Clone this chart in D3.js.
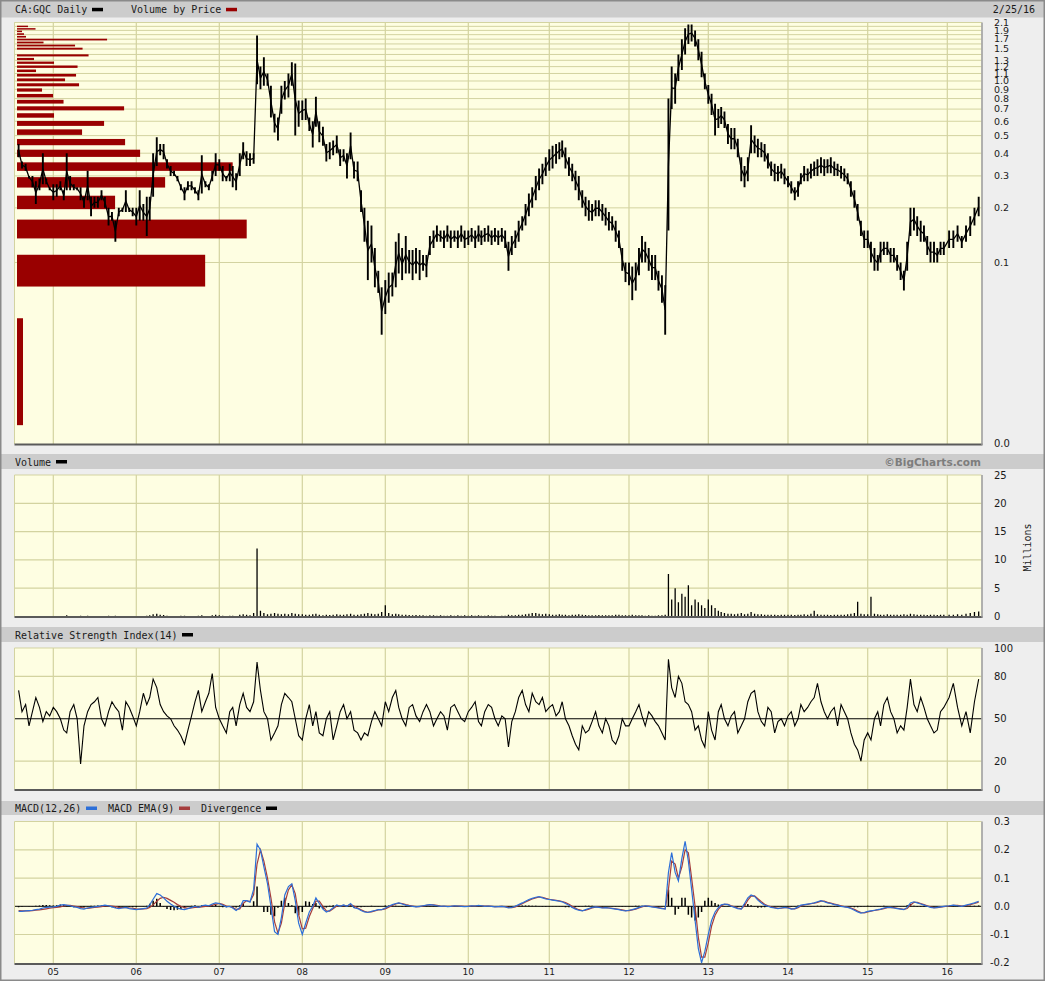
<!DOCTYPE html>
<html><head><meta charset="utf-8">
<script src="https://cdn.jsdelivr.net/npm/d3@7"></script>
<style>
html,body{margin:0;padding:0;background:#eeeeee;}
svg{display:block;}
</style></head><body>
<svg id="chart" width="1045" height="981"></svg>
<script>
// ---------------- DATA ----------------
const symbolTitle = "CA:GQC Daily";
const lastDateLabel = "2/25/16";
const yearLabels = ["05","06","07","08","09","10","11","12","13","14","15","16"];
const yearStarts = yearLabels.map(s => new Date(2000 + (+s), 0, 1));

// sample dates: 1st and 16th of each month Aug 2004 - Dec 2015, then weekly in 2016
const sampleDates = [];
for (let yr = 2004; yr <= 2015; yr++) {
  for (let m = (yr === 2004 ? 7 : 0); m < 12; m++) {
    sampleDates.push(new Date(yr, m, 1), new Date(yr, m, 16));
  }
}
["2016-01-04","2016-01-11","2016-01-18","2016-01-25","2016-02-01","2016-02-08","2016-02-15","2016-02-22"]
  .forEach(s => sampleDates.push(new Date(s + "T00:00:00")));

const priceLow = [
  0.38,0.33,0.32,0.29,0.26,0.21,0.25,0.27,0.27,0.25,
  0.22,0.23,0.25,0.22,0.25,0.25,0.25,0.25,0.22,0.20,0.22,0.18,0.20,0.20,0.22,0.20,0.16,0.17,0.13,0.18,0.19,0.19,0.19,0.18,
  0.16,0.17,0.17,0.14,0.17,0.23,0.34,0.39,0.37,0.33,0.30,0.30,0.28,0.25,0.22,0.25,0.25,0.24,0.22,0.24,0.26,0.25,0.28,0.30,
  0.32,0.28,0.28,0.28,0.26,0.25,0.30,0.37,0.34,0.34,0.35,0.96,0.90,0.94,0.94,0.63,0.52,0.47,0.66,0.79,0.81,0.94,0.50,0.56,
  0.61,0.61,0.53,0.43,0.56,0.46,0.44,0.36,0.37,0.39,0.40,0.34,0.36,0.29,0.37,0.29,0.28,0.19,0.13,0.08,0.10,0.073,0.068,0.04,
  0.052,0.06,0.065,0.073,0.087,0.08,0.087,0.087,0.08,0.087,0.08,0.09,0.083,0.11,0.12,0.13,0.13,0.12,0.13,0.12,0.13,0.12,0.13,0.12,
  0.125,0.13,0.12,0.13,0.125,0.13,0.13,0.125,0.13,0.125,0.13,0.12,0.09,0.11,0.12,0.13,0.15,0.16,0.18,0.20,0.22,0.25,0.27,0.30,
  0.32,0.33,0.35,0.37,0.38,0.33,0.30,0.28,0.25,0.22,0.20,0.18,0.17,0.17,0.18,0.18,0.17,0.16,0.15,0.15,0.13,0.12,0.09,0.078,
  0.075,0.062,0.07,0.085,0.10,0.10,0.09,0.08,0.08,0.07,0.06,0.04,0.15,0.70,0.75,1.00,1.15,1.40,1.60,1.65,1.55,1.30,1.05,0.90,
  0.75,0.65,0.50,0.55,0.58,0.55,0.45,0.42,0.42,0.38,0.28,0.26,0.28,0.40,0.40,0.38,0.38,0.36,0.33,0.30,0.28,0.28,0.29,0.27,
  0.26,0.24,0.22,0.23,0.27,0.28,0.28,0.29,0.30,0.30,0.31,0.30,0.31,0.31,0.30,0.30,0.29,0.28,0.27,0.23,0.20,0.17,0.14,0.12,
  0.12,0.10,0.09,0.09,0.10,0.11,0.11,0.10,0.10,0.09,0.08,0.07,0.09,0.14,0.15,0.14,0.13,0.13,0.11,0.10,0.10,0.10,0.11,0.11,
  0.12,0.12,0.13,0.12,0.13,0.14,0.16,0.18
];
const priceHigh = [
  0.45,0.36,0.35,0.30,0.30,0.28,0.29,0.40,0.29,0.26,
  0.27,0.27,0.28,0.25,0.40,0.30,0.27,0.26,0.26,0.23,0.32,0.23,0.23,0.23,0.25,0.23,0.20,0.19,0.17,0.20,0.20,0.25,0.20,0.20,
  0.20,0.25,0.21,0.23,0.23,0.40,0.49,0.45,0.45,0.37,0.34,0.32,0.30,0.27,0.26,0.28,0.28,0.26,0.25,0.39,0.28,0.27,0.32,0.40,
  0.37,0.34,0.30,0.35,0.34,0.31,0.40,0.46,0.41,0.40,0.40,1.78,1.20,1.35,1.10,0.94,0.66,0.63,0.94,1.00,1.10,1.27,1.25,0.78,
  0.78,0.80,0.63,0.60,0.82,0.60,0.56,0.45,0.46,0.47,0.50,0.42,0.42,0.40,0.52,0.36,0.36,0.25,0.20,0.17,0.16,0.12,0.09,0.073,
  0.08,0.088,0.088,0.13,0.145,0.12,0.14,0.117,0.117,0.12,0.117,0.11,0.11,0.14,0.15,0.16,0.15,0.15,0.16,0.15,0.15,0.15,0.16,0.15,
  0.15,0.155,0.15,0.16,0.15,0.155,0.16,0.15,0.155,0.15,0.155,0.15,0.13,0.14,0.15,0.17,0.18,0.21,0.24,0.26,0.30,0.33,0.35,0.38,
  0.42,0.44,0.45,0.46,0.47,0.43,0.38,0.35,0.32,0.30,0.25,0.23,0.22,0.21,0.22,0.22,0.21,0.20,0.19,0.18,0.17,0.15,0.12,0.10,
  0.10,0.095,0.10,0.12,0.14,0.13,0.12,0.11,0.11,0.09,0.085,0.075,0.80,1.20,1.10,1.40,1.70,1.95,2.05,2.05,1.90,1.70,1.45,1.10,
  0.95,0.85,0.75,0.70,0.72,0.68,0.58,0.55,0.55,0.48,0.38,0.34,0.38,0.57,0.50,0.48,0.46,0.45,0.40,0.36,0.35,0.34,0.35,0.33,
  0.30,0.28,0.26,0.28,0.31,0.34,0.33,0.35,0.36,0.37,0.38,0.37,0.37,0.38,0.36,0.35,0.34,0.33,0.31,0.28,0.25,0.21,0.17,0.15,
  0.15,0.13,0.12,0.11,0.13,0.13,0.13,0.12,0.12,0.11,0.10,0.09,0.13,0.20,0.20,0.18,0.17,0.16,0.14,0.13,0.13,0.12,0.13,0.13,
  0.15,0.15,0.16,0.14,0.16,0.18,0.20,0.23
];
// volume, millions of shares
const volume = [
  0.1,0.05,0.05,0.08,0.05,0.1,0.05,0.06,0.05,0.08,
  0.1,0.05,0.08,0.1,0.2,0.08,0.05,0.06,0.15,0.1,0.12,0.08,0.05,0.06,0.08,0.1,0.12,0.08,0.15,0.1,0.05,0.08,0.06,0.05,
  0.1,0.08,0.1,0.15,0.2,0.4,0.5,0.3,0.25,0.15,0.1,0.08,0.1,0.12,0.15,0.1,0.08,0.1,0.12,0.2,0.1,0.08,0.2,0.3,
  0.2,0.15,0.1,0.15,0.12,0.1,0.3,0.4,0.3,0.2,0.6,12.0,1.0,0.6,0.4,0.5,0.6,0.5,0.4,0.5,0.4,0.6,0.5,0.4,
  0.4,0.3,0.3,0.4,0.5,0.3,0.2,0.3,0.25,0.3,0.4,0.3,0.3,0.4,0.5,0.3,0.3,0.4,0.5,0.6,0.5,0.4,0.5,0.8,
  2.0,0.6,0.4,0.5,0.4,0.3,0.3,0.25,0.2,0.25,0.2,0.2,0.15,0.2,0.2,0.15,0.2,0.15,0.15,0.2,0.15,0.2,0.15,0.2,
  0.15,0.2,0.15,0.2,0.15,0.15,0.2,0.15,0.15,0.1,0.15,0.15,0.3,0.2,0.2,0.3,0.3,0.4,0.5,0.6,0.6,0.5,0.4,0.5,
  0.4,0.3,0.3,0.4,0.3,0.3,0.2,0.3,0.3,0.4,0.3,0.25,0.2,0.2,0.2,0.25,0.2,0.2,0.2,0.2,0.3,0.3,0.2,0.2,
  0.2,0.3,0.2,0.2,0.2,0.15,0.2,0.15,0.15,0.2,0.2,0.3,7.5,3.0,5.0,2.5,4.0,3.5,5.5,2.0,3.0,2.5,2.0,1.5,
  3.0,2.0,1.5,1.0,0.8,0.6,0.5,0.5,0.4,0.5,0.6,0.4,0.5,0.8,0.5,0.4,0.4,0.3,0.3,0.3,0.3,0.25,0.3,0.3,
  0.3,0.3,0.25,0.3,0.3,0.4,0.3,0.5,1.0,0.4,0.3,0.3,0.3,0.25,0.3,0.3,0.3,0.3,0.4,0.5,0.6,2.6,0.5,0.4,
  0.4,3.5,0.5,0.4,0.3,0.3,0.4,0.3,0.3,0.3,0.3,0.4,0.3,0.5,0.4,0.3,0.3,0.3,0.25,0.3,0.3,0.25,0.3,0.3,
  0.3,0.3,0.4,0.3,0.5,0.6,0.8,0.9
];
const rsi14 = [
  70,55,60,45,55,65,58,48,55,52,
  58,55,50,42,40,55,60,50,18,45,55,60,62,65,50,45,55,62,58,55,42,62,58,52,
  45,55,68,60,65,78,72,60,55,52,50,45,42,38,32,42,52,62,70,55,62,68,82,58,
  50,45,40,55,58,45,60,68,58,55,62,90,70,55,50,35,40,45,60,68,65,62,50,38,
  35,50,60,45,55,40,38,50,55,35,45,55,60,50,55,42,40,35,40,38,48,55,50,45,
  62,55,65,70,58,50,45,58,60,52,48,55,60,55,45,50,55,52,42,58,60,55,50,48,
  55,58,62,48,45,55,60,58,50,45,52,50,30,48,55,65,70,60,55,68,62,60,65,55,
  58,60,52,55,62,50,45,38,32,28,45,40,42,48,55,45,40,50,45,35,32,38,50,45,
  45,50,55,60,52,45,55,52,48,45,40,35,92,72,65,80,75,62,60,55,42,45,35,30,
  55,42,35,55,60,50,45,52,55,40,45,50,62,68,70,55,48,45,58,55,40,48,50,45,
  52,55,45,50,60,55,58,62,65,75,62,55,50,55,58,45,60,55,50,40,32,28,20,35,
  40,35,50,55,45,60,65,55,50,40,45,42,58,78,60,55,65,58,50,45,40,42,55,58,
  65,75,58,45,55,40,62,78
];
const macdLine = [
  -0.018,-0.018,-0.016,-0.015,-0.014,-0.012,-0.01,-0.006,-0.004,-0.003,
  -0.002,0.0,0.004,0.006,0.004,0.002,-0.002,-0.004,-0.008,-0.01,-0.006,-0.004,-0.002,0.0,0.002,0.004,0.002,-0.002,-0.006,-0.008,-0.006,-0.004,-0.008,-0.01,
  -0.012,-0.01,-0.008,-0.006,0.005,0.025,0.045,0.04,0.03,0.018,0.008,0.0,-0.006,-0.01,-0.012,-0.008,-0.004,0.0,-0.004,0.002,0.004,0.002,0.008,0.012,
  0.01,0.004,-0.002,0.0,-0.006,-0.015,-0.005,0.02,0.02,0.015,0.06,0.22,0.2,0.14,0.08,0.0,-0.09,-0.1,-0.04,0.04,0.07,0.08,0.02,-0.06,
  -0.1,-0.06,-0.02,0.0,0.03,0.01,-0.01,-0.02,-0.015,-0.005,0.005,0.0,0.005,0.0,0.01,-0.005,-0.008,-0.015,-0.02,-0.022,-0.018,-0.015,-0.012,-0.012,
  -0.006,0.0,0.006,0.01,0.012,0.008,0.004,0.002,0.0,-0.002,0.0,0.002,0.004,0.006,0.004,0.002,0.0,0.001,-0.001,0.0,0.002,0.001,0.0,-0.001,
  0.0,0.002,0.001,0.003,0.002,0.0,0.001,0.0,-0.002,-0.001,0.0,-0.002,-0.006,-0.004,0.0,0.006,0.012,0.018,0.024,0.028,0.032,0.034,0.03,0.026,
  0.024,0.022,0.02,0.018,0.016,0.01,0.004,-0.004,-0.01,-0.014,-0.016,-0.012,-0.008,-0.004,-0.002,-0.004,-0.006,-0.005,-0.006,-0.008,-0.01,-0.012,-0.015,-0.016,
  -0.014,-0.012,-0.008,-0.004,0.0,0.002,0.0,-0.002,-0.004,-0.006,-0.008,-0.01,0.12,0.19,0.12,0.09,0.17,0.23,0.16,0.06,-0.05,-0.15,-0.2,-0.16,
  -0.1,-0.05,-0.02,-0.005,0.005,0.008,0.006,0.0,-0.004,-0.008,-0.01,0.01,0.03,0.04,0.035,0.022,0.012,0.004,0.0,-0.004,-0.006,-0.008,-0.006,-0.004,
  -0.006,-0.01,-0.008,-0.002,0.004,0.006,0.008,0.01,0.012,0.016,0.02,0.016,0.012,0.01,0.006,0.004,0.0,-0.002,-0.004,-0.008,-0.014,-0.02,-0.024,-0.022,
  -0.018,-0.016,-0.014,-0.012,-0.01,-0.006,-0.004,-0.004,-0.006,-0.008,-0.01,-0.012,-0.004,0.012,0.016,0.012,0.008,0.004,0.0,-0.004,-0.006,-0.004,-0.002,0.0,
  0.002,0.004,0.002,0.0,0.004,0.008,0.012,0.018
];
const macdEma = [
  -0.015,-0.016,-0.016,-0.016,-0.015,-0.014,-0.013,-0.011,-0.009,-0.007,
  -0.005,-0.004,-0.002,0.001,0.003,0.003,0.001,-0.001,-0.004,-0.006,-0.007,-0.006,-0.004,-0.003,-0.001,0.001,0.002,0.001,-0.001,-0.004,-0.005,-0.005,-0.006,-0.007,
  -0.009,-0.01,-0.009,-0.008,-0.004,0.005,0.018,0.028,0.032,0.028,0.021,0.014,0.006,0.0,-0.005,-0.007,-0.006,-0.004,-0.004,-0.002,0.0,0.001,0.004,0.007,
  0.01,0.007,0.001,-0.001,-0.004,-0.011,-0.009,0.01,0.02,0.017,0.042,0.15,0.2,0.16,0.1,0.03,-0.055,-0.095,-0.06,0.01,0.058,0.076,0.045,-0.03,
  -0.08,-0.078,-0.036,-0.008,0.018,0.018,0.0,-0.016,-0.017,-0.009,0.001,0.002,0.003,0.002,0.006,0.001,-0.006,-0.012,-0.018,-0.021,-0.02,-0.016,-0.013,-0.012,
  -0.009,-0.003,0.003,0.008,0.011,0.01,0.006,0.003,0.001,-0.001,-0.001,0.001,0.003,0.005,0.005,0.003,0.001,0.0,0.0,0.0,0.001,0.001,0.001,0.0,
  0.0,0.001,0.001,0.002,0.002,0.001,0.001,0.0,-0.001,-0.001,0.0,-0.001,-0.004,-0.005,-0.002,0.003,0.009,0.015,0.021,0.026,0.03,0.033,0.032,0.028,
  0.025,0.023,0.021,0.019,0.017,0.013,0.007,0.0,-0.007,-0.012,-0.015,-0.014,-0.01,-0.006,-0.003,-0.003,-0.005,-0.005,-0.006,-0.007,-0.009,-0.011,-0.013,-0.015,
  -0.015,-0.013,-0.01,-0.006,-0.002,0.001,0.001,-0.001,-0.003,-0.005,-0.007,-0.009,0.06,0.16,0.15,0.1,0.14,0.2,0.19,0.1,0.0,-0.11,-0.18,-0.18,
  -0.13,-0.07,-0.032,-0.011,0.001,0.007,0.007,0.002,-0.002,-0.006,-0.009,0.002,0.022,0.036,0.037,0.027,0.016,0.007,0.002,-0.002,-0.005,-0.007,-0.007,-0.005,
  -0.005,-0.008,-0.009,-0.005,0.001,0.005,0.007,0.009,0.011,0.014,0.018,0.018,0.014,0.011,0.008,0.005,0.002,-0.001,-0.003,-0.006,-0.011,-0.017,-0.022,-0.023,
  -0.02,-0.017,-0.015,-0.013,-0.011,-0.008,-0.005,-0.004,-0.005,-0.007,-0.009,-0.011,-0.008,0.004,0.014,0.014,0.01,0.006,0.002,-0.002,-0.005,-0.005,-0.003,-0.001,
  0.001,0.003,0.003,0.001,0.002,0.006,0.01,0.015
];
// Volume by price: bucket centre price and relative volume
const vbpPrice = [0.031,0.092,0.154,0.215,0.277,0.338,0.400,0.461,0.523,0.584,0.646,0.707,0.769,0.830,0.892,0.953,1.015,1.076,1.138,1.199,1.261,1.322,1.384,1.445,1.507,1.568,1.630,1.691,1.753,1.814,1.876,1.937,1.999];
const vbpVolume = [1.2,37.6,45.9,19.6,29.6,43.1,24.6,21.6,13.0,17.4,7.4,21.4,9.3,7.2,5.0,12.4,9.6,11.8,3.8,12.1,7.4,3.4,14.3,0,13.1,11.6,5.3,18.0,1.8,1.4,1.0,3.7,2.2];

const priceGridValues = d3.range(1, 22).map(i => i / 10);
const priceTickLabels = [2.1,1.9,1.7,1.5,1.3,1.2,1.1,1.0,0.9,0.8,0.7,0.6,0.5,0.4,0.3,0.2,0.1];
const volumeTicks = [0,5,10,15,20,25];
const rsiTicks = [0,20,50,80,100];
const macdTicks = [-0.2,-0.1,0.0,0.1,0.2,0.3];

// ---------------- LAYOUT ----------------
const W = 1045, H = 981;
const plotL = 14.5, plotR = 981.5;
const P = {
  price: {top: 22.5, bottom: 444},
  vol:   {top: 475,  bottom: 616.5},
  rsi:   {top: 648,  bottom: 789.5},
  macd:  {top: 821.5, bottom: 963.5}
};
const C = {bg:"#eeeeee", head:"#cccccc", plot:"#fefee2", grid:"#d3d3a0", text:"#1a1a1a",
           vbp:"#990000", blue:"#2d6fd8", red:"#a53d3d"};
const monoFont = "'DejaVu Sans Mono', monospace";
const sansFont = "'DejaVu Sans', Verdana, sans-serif";

const N = Math.min(sampleDates.length, priceLow.length, priceHigh.length);

const svg = d3.select("#chart");
svg.append("rect").attr("width", W).attr("height", H).attr("fill", C.bg);

// x scale: piecewise time scale matching year gridlines
const xKnots = [new Date(2004,0,1), ...yearStarts, new Date(2016,1,25)];
const xKnotPx = [-29.7, 53.3, 136.3, 219.3, 302.3, 385.3, 468.3, 549.3, 629, 708.3, 788, 867.7, 947.3, 980.5];
const x = d3.scaleTime().domain(xKnots).range(xKnotPx);

const yPrice = d3.scaleLog().domain([0.01, 2.1]).range([P.price.bottom, P.price.top]);
const yVol = d3.scaleLinear().domain([0, 25]).range([P.vol.bottom, P.vol.top]);
const yRsi = d3.scaleLinear().domain([0, 100]).range([789.5, 648]);
const yMacd = d3.scaleLinear().domain([-0.2, 0.3]).range([962.7, 821.7]);
const xVbp = d3.scaleLinear().domain([0, 45.9]).range([17, 246.7]);

// header bars
const headers = [[1, 17.5], [454, 469], [627, 642], [801, 815]];
headers.forEach(([a, b]) => svg.append("rect").attr("x", 1).attr("y", a).attr("width", W - 2).attr("height", b - a).attr("fill", C.head));

function headText(t, xx, yy, opts = {}) {
  return svg.append("text").attr("x", xx).attr("y", yy).text(t)
    .attr("font-family", opts.font || monoFont).attr("font-size", opts.size || 10)
    .attr("fill", opts.fill || C.text).attr("text-anchor", opts.anchor || "start")
    .attr("font-weight", opts.weight || "normal");
}
function swatch(xx, yy, col) {
  svg.append("rect").attr("x", xx).attr("y", yy).attr("width", 11).attr("height", 3.5).attr("fill", col);
}
headText(symbolTitle, 15, 13); swatch(92, 7.8, "#000");
headText("Volume by Price", 131, 13); swatch(226, 7.8, C.vbp);
headText(lastDateLabel, 1035, 13, {anchor: "end"});
headText("Volume", 15, 466); swatch(56, 460, "#000");
headText("\u00A9BigCharts.com", 981, 466, {font: sansFont, size: 10.5, weight: "bold", fill: "#7d7d7d", anchor: "end"});
headText("Relative Strength Index(14)", 15, 638.5); swatch(182, 633, "#000");
headText("MACD(12,26)", 15, 812); swatch(86, 806.5, C.blue);
headText("MACD EMA(9)", 108, 812); swatch(179, 806.5, C.red);
headText("Divergence", 201, 812); swatch(266, 806.5, "#000");

// panels
const defs = svg.append("defs");
function panel(key) {
  const p = P[key];
  const g = svg.append("g");
  g.append("rect").attr("x", plotL).attr("y", p.top).attr("width", plotR - plotL).attr("height", p.bottom - p.top).attr("fill", C.plot);
  defs.append("clipPath").attr("id", "clip-" + key).append("rect")
    .attr("x", plotL).attr("y", p.top).attr("width", plotR - plotL).attr("height", p.bottom - p.top);
  g.selectAll("line.vg").data(yearStarts).join("line")
    .attr("x1", d => x(d)).attr("x2", d => x(d)).attr("y1", p.top).attr("y2", p.bottom)
    .attr("stroke", C.grid).attr("stroke-width", 1.2);
  return g;
}
function frame(key) {
  const p = P[key];
  svg.append("line").attr("x1", plotL).attr("x2", plotR).attr("y1", p.top).attr("y2", p.top).attr("stroke", C.grid).attr("stroke-width", 1);
  svg.append("line").attr("x1", plotL).attr("x2", plotL).attr("y1", p.top).attr("y2", p.bottom).attr("stroke", C.grid).attr("stroke-width", 1);
  svg.append("line").attr("x1", plotL).attr("x2", plotR + 1).attr("y1", p.bottom + 0.5).attr("y2", p.bottom + 0.5).attr("stroke", "#5a5a5a").attr("stroke-width", 1.8);
  svg.append("line").attr("x1", plotR + 0.5).attr("x2", plotR + 0.5).attr("y1", p.top).attr("y2", p.bottom + 1).attr("stroke", "#9a9a9a").attr("stroke-width", 1.5);
}
function yLabels(vals, scale, fmt, size = 10) {
  const x0 = 994;
  return svg.append("g").selectAll("text").data(vals).join("text")
    .attr("x", d => d < 0 ? x0 - 4 : x0).attr("y", d => scale(d)).attr("dy", "0.35em")
    .attr("font-family", sansFont).attr("font-size", size).attr("fill", C.text)
    .text(fmt);
}

// ---- price panel ----
const gP = panel("price");
gP.selectAll("line.hg").data(priceGridValues).join("line")
  .attr("x1", plotL).attr("x2", plotR).attr("y1", d => yPrice(d)).attr("y2", d => yPrice(d))
  .attr("stroke", C.grid).attr("stroke-width", 1);
const gPc = gP.append("g").attr("clip-path", "url(#clip-price)");
const vbpIdx = d3.range(vbpPrice.length).filter(i => vbpVolume[i] > 0);
const vbpHalf = 0.0183;
gPc.selectAll("rect.vbp").data(vbpIdx).join("rect")
  .attr("x", xVbp(0)).attr("width", i => xVbp(vbpVolume[i]) - xVbp(0))
  .attr("y", i => yPrice(vbpPrice[i] + vbpHalf))
  .attr("height", i => yPrice(vbpPrice[i] - vbpHalf) - yPrice(vbpPrice[i] + vbpHalf))
  .attr("fill", C.vbp);
const idx = d3.range(N);
gPc.selectAll("line.hl").data(idx).join("line")
  .attr("x1", i => x(sampleDates[i])).attr("x2", i => x(sampleDates[i]))
  .attr("y1", i => yPrice(priceLow[i])).attr("y2", i => yPrice(priceHigh[i]))
  .attr("stroke", "#000").attr("stroke-width", 1.9);
gPc.append("path").datum(idx)
  .attr("d", d3.line().x(i => x(sampleDates[i])).y(i => yPrice(Math.sqrt(priceLow[i] * priceHigh[i]))))
  .attr("fill", "none").attr("stroke", "#000").attr("stroke-width", 1.3);
frame("price");
yLabels(priceTickLabels, yPrice, d => d.toFixed(1), 9.5);
yLabels([0.01], yPrice, () => "0.0").attr("dy", "0.3em");

// ---- volume panel ----
const gV = panel("vol");
gV.selectAll("line.hg").data([5,10,15,20]).join("line")
  .attr("x1", plotL).attr("x2", plotR).attr("y1", d => yVol(d)).attr("y2", d => yVol(d))
  .attr("stroke", C.grid).attr("stroke-width", 1.2);
gV.append("g").attr("clip-path", "url(#clip-vol)").selectAll("line").data(d3.range(Math.min(N, volume.length))).join("line")
  .attr("x1", i => x(sampleDates[i])).attr("x2", i => x(sampleDates[i]))
  .attr("y1", yVol(0)).attr("y2", i => yVol(volume[i]))
  .attr("stroke", "#000").attr("stroke-width", 1.3);
frame("vol");
yLabels(volumeTicks, yVol, d => d);
svg.append("text").attr("transform", "translate(1031,547.5) rotate(-90)")
  .attr("text-anchor", "middle").attr("font-family", monoFont).attr("font-size", 10).attr("fill", C.text).text("Millions");

// ---- RSI panel ----
const gR = panel("rsi");
gR.selectAll("line.hg").data([20, 80]).join("line")
  .attr("x1", plotL).attr("x2", plotR).attr("y1", d => yRsi(d)).attr("y2", d => yRsi(d))
  .attr("stroke", C.grid).attr("stroke-width", 1.2);
gR.append("line").attr("x1", plotL).attr("x2", plotR).attr("y1", yRsi(50)).attr("y2", yRsi(50)).attr("stroke", "#000").attr("stroke-width", 1);
gR.append("path").attr("clip-path", "url(#clip-rsi)").datum(d3.range(Math.min(N, rsi14.length)))
  .attr("d", d3.line().x(i => x(sampleDates[i])).y(i => yRsi(rsi14[i])))
  .attr("fill", "none").attr("stroke", "#000").attr("stroke-width", 1.1);
frame("rsi");
yLabels(rsiTicks, yRsi, d => d);

// ---- MACD panel ----
const gM = panel("macd");
gM.selectAll("line.hg").data([-0.1, 0.1, 0.2]).join("line")
  .attr("x1", plotL).attr("x2", plotR).attr("y1", d => yMacd(d)).attr("y2", d => yMacd(d))
  .attr("stroke", C.grid).attr("stroke-width", 1.2);
const gMc = gM.append("g").attr("clip-path", "url(#clip-macd)");
const mIdx = d3.range(Math.min(N, macdLine.length, macdEma.length));
gMc.selectAll("line.div").data(mIdx).join("line")
  .attr("x1", i => x(sampleDates[i])).attr("x2", i => x(sampleDates[i]))
  .attr("y1", yMacd(0)).attr("y2", i => yMacd(macdLine[i] - macdEma[i]))
  .attr("stroke", "#000").attr("stroke-width", 1.5);
gMc.append("line").attr("x1", plotL).attr("x2", plotR).attr("y1", yMacd(0)).attr("y2", yMacd(0)).attr("stroke", "#000").attr("stroke-width", 1);
gMc.append("path").datum(mIdx)
  .attr("d", d3.line().x(i => x(sampleDates[i])).y(i => yMacd(macdEma[i])))
  .attr("fill", "none").attr("stroke", C.red).attr("stroke-width", 1.2);
gMc.append("path").datum(mIdx)
  .attr("d", d3.line().x(i => x(sampleDates[i])).y(i => yMacd(macdLine[i])))
  .attr("fill", "none").attr("stroke", C.blue).attr("stroke-width", 1.2);
frame("macd");
yLabels(macdTicks, yMacd, d => d.toFixed(1));

// x axis labels
svg.append("g").selectAll("text").data(yearStarts).join("text")
  .attr("x", d => x(d)).attr("y", 975).attr("text-anchor", "middle")
  .attr("font-family", sansFont).attr("font-size", 9).attr("fill", C.text)
  .text((d, i) => yearLabels[i]);

// outer frame
svg.append("rect").attr("x", 0.75).attr("y", 0.75).attr("width", W - 1.5).attr("height", H - 1.5)
  .attr("fill", "none").attr("stroke", "#8a8a8a").attr("stroke-width", 1.5);
</script></body></html>
